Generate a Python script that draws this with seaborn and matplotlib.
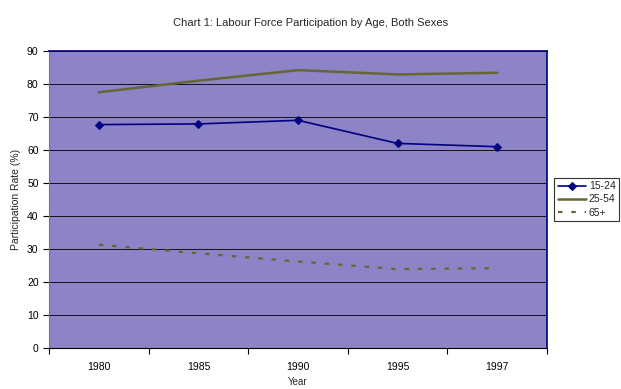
import matplotlib
matplotlib.use("Agg")
import matplotlib.pyplot as plt
import seaborn as sns
import pandas as pd
from matplotlib.ticker import FixedLocator

years = ["1980", "1985", "1990", "1995", "1997"]
age_15_24 = [67.7, 67.9, 69.0, 62.0, 61.0]
age_25_54 = [77.5, 81.0, 84.2, 82.9, 83.4]
age_65_plus = [31.3, 28.7, 26.2, 23.9, 24.2]
series_names = ["15-24", "25-54", "65+"]

rows = []
for name, vals in zip(series_names, [age_15_24, age_25_54, age_65_plus]):
    for y, v in zip(years, vals):
        rows.append({"Year": y, "Rate": v, "Age": name})
df = pd.DataFrame(rows)

sns.set_theme(style="white")
plt.rcParams["font.family"] = ["Liberation Sans", "DejaVu Sans"]

fig = plt.figure(figsize=(6.21, 3.89), dpi=100)
ax = fig.add_axes([49/621, 1-348/389, (547-49)/621, (348-51)/389])
ax.set_facecolor("#8C84C6")

palette = {"15-24": "#000080", "25-54": "#666633", "65+": "#666633"}
for name in series_names:
    sub = df[df["Age"] == name]
    if name == "15-24":
        sns.lineplot(data=sub, x="Year", y="Rate", ax=ax, color=palette[name],
                     lw=1.2, marker="D", markersize=4, markeredgecolor="#000080",
                     label=name, sort=False)
    elif name == "25-54":
        sns.lineplot(data=sub, x="Year", y="Rate", ax=ax, color=palette[name],
                     lw=1.8, label=name, sort=False)
    else:
        sns.lineplot(data=sub, x="Year", y="Rate", ax=ax, color=palette[name],
                     lw=1.6, linestyle=(0, (2, 4)), label=name, sort=False)

ax.set_xlim(-0.5, 4.5)
ax.set_ylim(0, 90)
ax.set_yticks(range(0, 91, 10))
ax.yaxis.grid(True, color="black", lw=0.6)
ax.set_axisbelow(True)
ax.set_xticks(range(len(years)))
ax.set_xticklabels(years)
ax.xaxis.set_minor_locator(FixedLocator([i - 0.5 for i in range(len(years) + 1)]))
ax.tick_params(axis="x", which="major", length=0, labelsize=7.5, pad=10, colors="black")
ax.tick_params(axis="x", which="minor", length=4, width=0.8, color="black", direction="out", bottom=True)
ax.tick_params(axis="y", which="major", length=4, width=0.8, color="black", direction="out",
               left=True, labelsize=7.5, colors="black")

for s in ["top", "right"]:
    ax.spines[s].set_color("#000080")
    ax.spines[s].set_linewidth(1.2)
ax.spines["left"].set_color("#777777")
ax.spines["left"].set_linewidth(0.8)
ax.spines["bottom"].set_color("black")
ax.spines["bottom"].set_linewidth(0.8)

ax.set_xlabel("Year", fontsize=7, labelpad=4)
ax.set_ylabel("Participation Rate (%)", fontsize=7.5, labelpad=4)

fig.suptitle("Chart 1: Labour Force Participation by Age, Both Sexes", fontsize=8, y=0.955, x=0.5)

ax.get_legend().remove()
handles, labels = ax.get_legend_handles_labels()
leg = fig.legend(handles, labels, loc="center left", bbox_to_anchor=(554/621, 1-199.5/389),
                 fontsize=7.5, frameon=True, fancybox=False, edgecolor="black",
                 handlelength=2.7, borderpad=0.35, labelspacing=0.3, handletextpad=0.3,
                 borderaxespad=0)
leg.get_frame().set_linewidth(0.8)

fig.savefig("out.png", dpi=100)
